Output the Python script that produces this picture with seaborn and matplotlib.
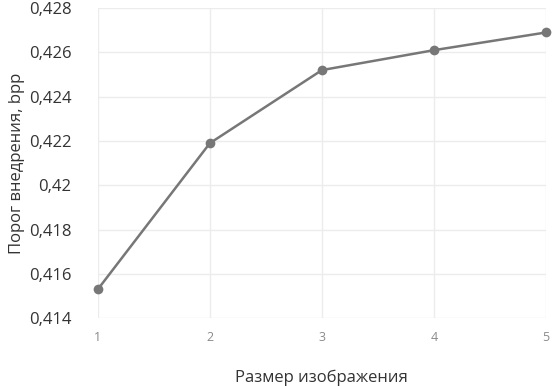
import matplotlib
matplotlib.use("Agg")
import matplotlib.pyplot as plt
import matplotlib.ticker as mticker
import seaborn as sns
import pandas as pd

# values
image_size = [1, 2, 3, 4, 5]
threshold = [0.4153, 0.4219, 0.4252, 0.4261, 0.4269]
y_ticks = [0.414, 0.416, 0.418, 0.42, 0.422, 0.424, 0.426, 0.428]

df = pd.DataFrame({"size": image_size, "threshold": threshold})

sns.set_style("white")
plt.rcParams["font.family"] = ["Open Sans", "DejaVu Sans"]

fig = plt.figure(figsize=(5.56, 3.86), dpi=100)
ax = fig.add_axes([0.176, 0.176, 0.806, 0.803])

sns.lineplot(data=df, x="size", y="threshold", ax=ax, color="#777777",
             linewidth=1.8, marker="o", markersize=7, markeredgewidth=0, clip_on=False)

ax.set_xlim(1, 5)
ax.set_ylim(0.414, 0.428)
ax.set_xticks(image_size)
ax.set_yticks(y_ticks)


def comma_fmt(v, pos):
    s = f"{v:.3f}".rstrip("0").rstrip(".")
    return s.replace(".", ",")


ax.yaxis.set_major_formatter(mticker.FuncFormatter(comma_fmt))
ax.grid(True, color="#ececec", linewidth=1)
for s in ax.spines.values():
    s.set_visible(False)

ax.tick_params(axis="y", labelsize=12, colors="#333333", length=0, pad=19)
ax.tick_params(axis="x", labelsize=9, colors="#8a8a8a", length=0, pad=9)

ax.set_xlabel("Размер изображения", fontsize=12, color="#333333", labelpad=19)
ax.set_ylabel("Порог внедрения, bpp", fontsize=12, color="#333333", labelpad=3)

fig.savefig("out.png", dpi=100)
